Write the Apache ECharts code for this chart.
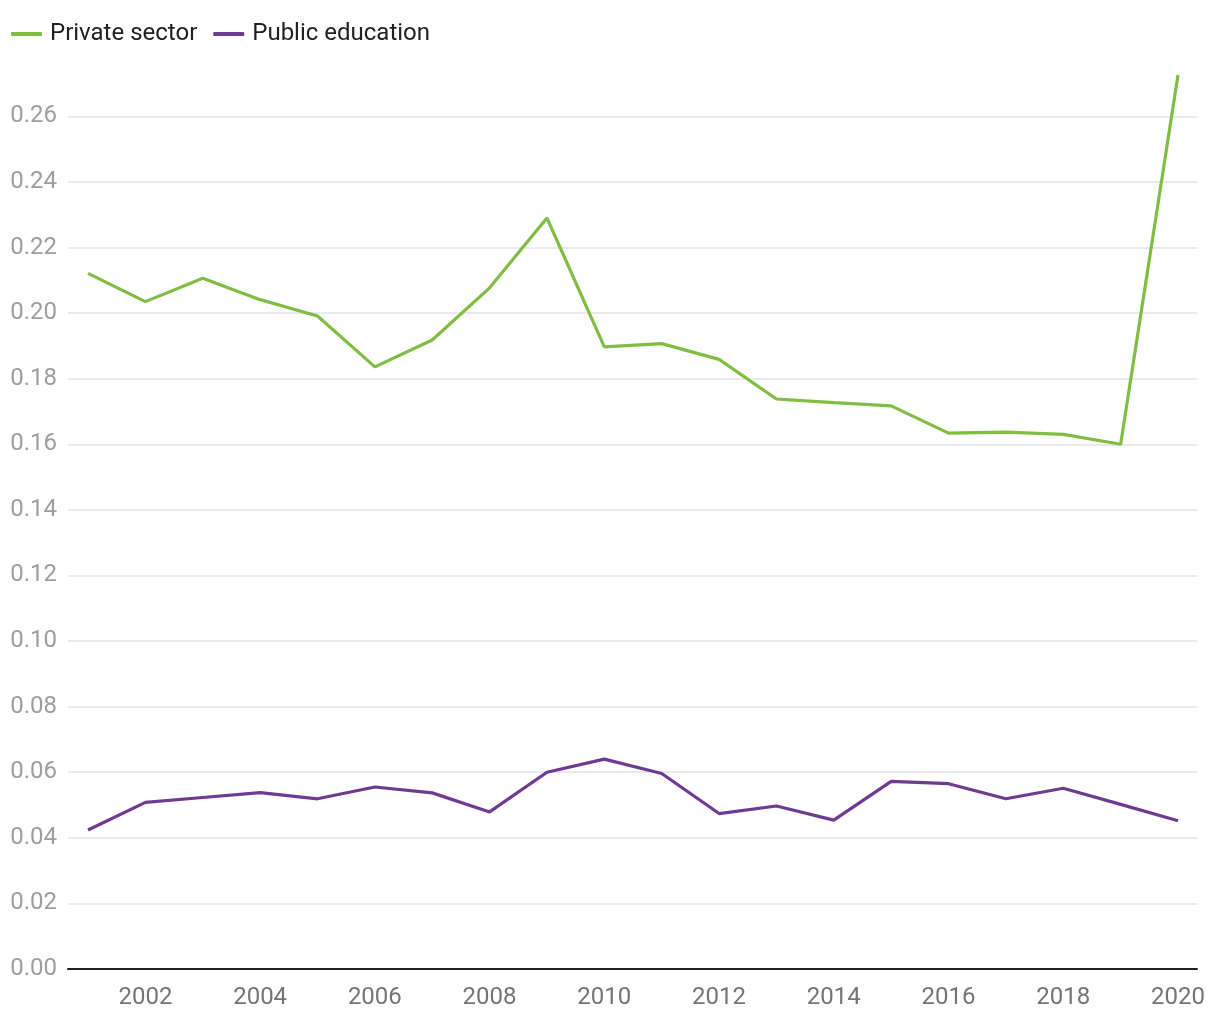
<!DOCTYPE html>
<html>
<head>
<meta charset="utf-8">
<script src="https://cdn.jsdelivr.net/npm/echarts@6/dist/echarts.min.js"></script>
<style>html,body{margin:0;padding:0;background:#fff}#c{width:1220px;height:1020px}</style>
</head>
<body>
<div id="c"></div>
<script>
const years = [2001,2002,2003,2004,2005,2006,2007,2008,2009,2010,2011,2012,2013,2014,2015,2016,2017,2018,2019,2020];
const privateSector = [0.2121,0.2035,0.2106,0.2041,0.1991,0.1836,0.1918,0.2077,0.2290,0.1897,0.1907,0.1859,0.1738,0.1727,0.1717,0.1634,0.1637,0.1630,0.1600,0.2726];
const publicEducation = [0.0424,0.0508,0.0523,0.0538,0.0519,0.0555,0.0537,0.0479,0.0600,0.0640,0.0596,0.0474,0.0497,0.0454,0.0572,0.0565,0.0519,0.0551,0.0502,0.0452];
const seriesNames = ['Private sector','Public education'];

const chart = echarts.init(document.getElementById('c'));
const font = 'Roboto';
// 14 visible grid lines (0.00..0.26) then a transparent one at the data max
const gridColors = Array(14).fill('#e3e3e3').concat(['rgba(0,0,0,0)']);
chart.setOption({
  animation: false,
  textStyle: { fontFamily: font },
  legend: {
    left: 6, top: 17,
    icon: 'roundRect', itemWidth: 31, itemHeight: 4, itemGap: 16,
    textStyle: { fontFamily: font, fontSize: 24, color: '#222', padding: [0,0,0,3] },
    data: seriesNames
  },
  grid: { left: 68, right: 23, top: 75, bottom: 51, containLabel: false },
  xAxis: {
    type: 'value', min: 2000.651, max: 2020.331, splitNumber: 10,
    axisLine: { show: true, lineStyle: { color: '#222', width: 2 } },
    axisTick: { show: false },
    splitLine: { show: false },
    axisLabel: {
      fontFamily: font, fontSize: 24, color: '#757575', margin: 17,
      formatter: v => (Math.abs(v - Math.round(v)) < 1e-6 && Math.round(v) % 2 === 0) ? String(Math.round(v)) : ''
    }
  },
  yAxis: {
    type: 'value', min: 0, max: v => v.max, interval: 0.02,
    axisLine: { show: false }, axisTick: { show: false },
    axisLabel: { fontFamily: font, fontSize: 24, color: '#9e9e9e', margin: 11, showMaxLabel: false,
      formatter: v => v.toFixed(2) },
    splitLine: { lineStyle: { color: gridColors, width: 1.5 } }
  },
  series: [
    { name: seriesNames[0], type: 'line', data: years.map((y,i)=>[y, privateSector[i]]),
      showSymbol: false, symbol: 'none', lineStyle: { width: 3.2, color: '#80bd42' }, itemStyle: { color: '#80bd42' } },
    { name: seriesNames[1], type: 'line', data: years.map((y,i)=>[y, publicEducation[i]]),
      showSymbol: false, symbol: 'none', lineStyle: { width: 3.2, color: '#6f3b92' }, itemStyle: { color: '#6f3b92' } }
  ]
});
</script>
</body>
</html>
